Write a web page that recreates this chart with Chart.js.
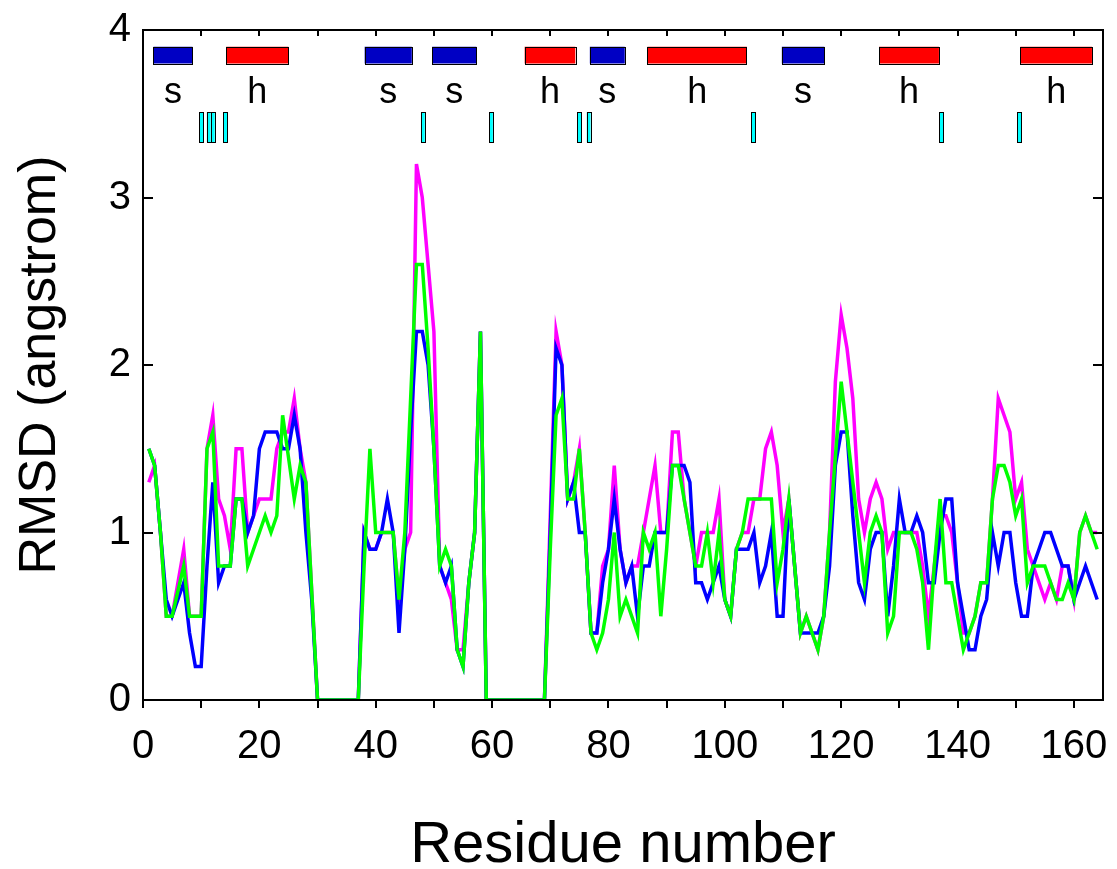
<!DOCTYPE html>
<html>
<head>
<meta charset="utf-8">
<script src="https://cdn.jsdelivr.net/npm/chart.js@4"></script>
<style>
  html, body { margin: 0; padding: 0; background: #ffffff; }
  #wrap { width: 1117px; height: 869px; }
</style>
</head>
<body>
<div id="wrap"><canvas id="c" width="1117" height="869"></canvas></div>
<script>
// ---------- data ----------
const residues = Array.from({ length: 164 }, (_, i) => i + 1);

const rmsdMagenta = [
  1.3,1.4,1.0,0.5,0.5,0.7,0.9,0.5,0.5,0.5,
  1.5,1.7,1.2,1.1,0.9,1.5,1.5,1.0,1.1,1.2,
  1.2,1.2,1.5,1.6,1.6,1.8,1.5,1.3,0.65,
  0,0,0,0,0,0,0,0,
  1.0,0.9,0.9,1.0,1.0,1.0,0.6,0.9,1.0,3.2,
  3.0,2.6,2.2,0.8,0.7,0.6,0.3,0.3,0.7,1.0,2.2,
  0,0,0,0,0,0,0,0,0,0,0,
  1.1,2.2,2.0,1.2,1.3,1.5,1.0,0.4,0.4,0.8,
  0.9,1.4,0.9,0.7,0.8,0.8,1.0,1.2,1.4,1.0,
  1.0,1.6,1.6,1.2,1.0,0.8,1.0,1.0,1.0,1.2,0.6,
  0.5,0.9,1.0,1.0,1.2,1.2,1.5,1.6,1.4,1.0,
  1.2,0.8,0.4,0.5,0.4,0.3,0.5,1.0,1.9,2.3,
  2.1,1.8,1.2,1.0,1.2,1.3,1.2,0.9,1.0,1.0,
  1.0,1.0,1.0,0.8,0.5,0.8,1.1,1.1,1.0,0.7,
  0.4,0.4,0.5,0.7,0.7,1.2,1.8,1.7,1.6,1.2,
  1.3,0.9,0.8,0.7,0.6,0.7,0.6,0.8,0.8,0.6,
  1.0,1.1,1.0,1.0
];

const rmsdBlue = [
  1.5,1.4,1.0,0.6,0.5,0.6,0.7,0.4,0.2,0.2,
  0.8,1.3,0.7,0.8,0.8,1.2,1.2,1.0,1.1,1.5,
  1.6,1.6,1.6,1.5,1.5,1.7,1.5,1.0,0.6,
  0,0,0,0,0,0,0,0,
  1.0,0.9,0.9,1.0,1.2,1.0,0.4,0.9,1.6,2.2,
  2.2,2.0,1.5,0.8,0.7,0.8,0.3,0.2,0.7,1.0,2.2,
  0,0,0,0,0,0,0,0,0,0,0,
  1.0,2.1,2.0,1.2,1.3,1.0,1.0,0.4,0.4,0.7,
  0.9,1.2,0.9,0.7,0.8,0.5,0.8,0.8,1.0,1.0,
  1.0,1.4,1.4,1.4,1.3,0.7,0.7,0.6,0.7,0.8,0.6,
  0.5,0.9,0.9,0.9,1.0,0.7,0.8,1.0,0.5,0.5,
  1.2,0.8,0.4,0.4,0.4,0.4,0.5,0.8,1.4,1.6,
  1.6,1.1,0.7,0.6,0.9,1.0,1.0,0.5,0.8,1.2,
  1.0,1.0,1.1,1.0,0.7,0.7,1.0,1.2,1.2,0.7,
  0.5,0.3,0.3,0.5,0.6,1.0,0.8,1.0,1.0,0.7,
  0.5,0.5,0.8,0.9,1.0,1.0,0.9,0.8,0.8,0.6,
  0.7,0.8,0.7,0.6
];

const rmsdGreen = [
  1.5,1.4,1.0,0.5,0.5,0.65,0.8,0.5,0.5,0.5,
  1.5,1.6,0.8,0.8,0.8,1.2,1.2,0.8,0.9,1.0,
  1.1,1.0,1.1,1.7,1.45,1.2,1.4,1.3,0.65,
  0,0,0,0,0,0,0,0,
  0.8,1.5,1.0,1.0,1.0,1.0,0.6,1.0,1.8,2.6,
  2.6,2.1,1.5,0.8,0.9,0.8,0.3,0.2,0.7,1.0,2.2,
  0,0,0,0,0,0,0,0,0,0,0,
  0.9,1.7,1.8,1.2,1.2,1.5,1.0,0.4,0.3,0.4,
  0.6,1.0,0.5,0.6,0.5,0.4,1.0,0.9,1.0,0.5,
  0.9,1.4,1.4,1.2,1.0,0.8,0.8,1.0,0.7,1.0,0.6,
  0.5,0.9,1.0,1.2,1.2,1.2,1.2,1.2,0.7,0.9,
  1.2,0.8,0.4,0.5,0.4,0.3,0.5,1.0,1.45,1.9,
  1.6,1.3,1.0,0.7,1.0,1.1,1.0,0.4,0.5,1.0,
  1.0,1.0,0.9,0.7,0.3,0.8,1.2,0.7,0.7,0.5,
  0.3,0.4,0.5,0.7,0.7,1.2,1.4,1.4,1.3,1.1,
  1.2,0.7,0.8,0.8,0.8,0.7,0.6,0.6,0.7,0.6,
  1.0,1.1,1.0,0.9
];

// secondary structure (residue ranges)
const strandStarts = [1.8, 38.1, 49.7, 76.8, 109.8];
const strandEnds   = [8.5, 46.2, 57.3, 82.8, 117.1];
const helixStarts  = [14.3, 65.6, 86.7, 126.5, 150.8];
const helixEnds    = [25.0, 74.3, 103.8, 136.8, 163.1];
const strandLabel = 's';
const helixLabel = 'h';
// marked residues (cyan ticks)
const markedResidues = [10.0, 11.3, 12.0, 14.1, 48.1, 59.8, 75.0, 76.6, 104.9, 137.2, 150.6];

// axis ticks
const xTickLabels = [0, 20, 40, 60, 80, 100, 120, 140, 160];
const xTickMarks = [0,10,20,30,40,50,60,70,80,90,100,110,120,130,140,150,160];
const yTickLabels = [0, 1, 2, 3, 4];

// ---------- chart ----------
const FONT = "'Liberation Sans', Arial, Helvetica, sans-serif";

const framePlugin = {
  id: 'framePlugin',
  afterDraw(chart) {
    const ctx = chart.ctx;
    const xs = chart.scales.x, ys = chart.scales.y;
    const a = chart.chartArea;
    ctx.save();
    // frame
    ctx.strokeStyle = '#000';
    ctx.lineWidth = 2;
    ctx.strokeRect(a.left, a.top, a.right - a.left, a.bottom - a.top);
    // x tick marks: outward at bottom, inward at top
    ctx.beginPath();
    xTickMarks.forEach(v => {
      const px = Math.round(xs.getPixelForValue(v));
      ctx.moveTo(px, a.bottom); ctx.lineTo(px, a.bottom + 8);
      ctx.moveTo(px, a.top); ctx.lineTo(px, a.top + 6);
    });
    // y tick marks: inward left and right
    yTickLabels.forEach(v => {
      const py = Math.round(ys.getPixelForValue(v));
      ctx.moveTo(a.left, py); ctx.lineTo(a.left + 10, py);
      ctx.moveTo(a.right, py); ctx.lineTo(a.right - 10, py);
    });
    ctx.stroke();

    // secondary structure boxes
    const yb = ys.getPixelForValue(3.8), yt = ys.getPixelForValue(3.9);
    const drawBox = (x0, x1, fill) => {
      const p0 = xs.getPixelForValue(x0), p1 = xs.getPixelForValue(x1);
      ctx.fillStyle = fill;
      ctx.fillRect(p0, yt, p1 - p0, yb - yt);
      ctx.lineWidth = 1;
      ctx.strokeStyle = '#000';
      ctx.strokeRect(Math.round(p0) + 0.5, Math.round(yt) + 0.5, Math.round(p1 - p0), Math.round(yb - yt));
    };
    ctx.font = '36px ' + FONT;
    ctx.textAlign = 'center';
    ctx.textBaseline = 'alphabetic';
    const ly = ys.getPixelForValue(3.565);
    strandStarts.forEach((s, i) => {
      drawBox(s, strandEnds[i], '#0000c4');
      ctx.fillStyle = '#000';
      ctx.fillText(strandLabel, xs.getPixelForValue((s + strandEnds[i]) / 2), ly);
    });
    helixStarts.forEach((s, i) => {
      drawBox(s, helixEnds[i], '#ff0000');
      ctx.fillStyle = '#000';
      ctx.fillText(helixLabel, xs.getPixelForValue((s + helixEnds[i]) / 2), ly);
    });
    // cyan marks
    const cb = ys.getPixelForValue(3.33), ct = ys.getPixelForValue(3.51);
    markedResidues.forEach(r => {
      const p0 = xs.getPixelForValue(r - 0.33), p1 = xs.getPixelForValue(r + 0.33);
      ctx.fillStyle = '#00ffff';
      ctx.fillRect(p0, ct, p1 - p0, cb - ct);
      ctx.lineWidth = 1;
      ctx.strokeStyle = '#000';
      ctx.strokeRect(Math.round(p0) + 0.5, Math.round(ct) + 0.5, Math.round(p1 - p0), Math.round(cb - ct));
    });
    ctx.restore();
  }
};

const mk = (arr) => residues.map((r, i) => ({ x: r, y: arr[i] }));

new Chart(document.getElementById('c'), {
  type: 'line',
  data: {
    datasets: [
      { label: 'green', data: mk(rmsdGreen), borderColor: '#00ff00', order: 1 },
      { label: 'blue', data: mk(rmsdBlue), borderColor: '#0000ff', order: 2 },
      { label: 'magenta', data: mk(rmsdMagenta), borderColor: '#ff00ff', order: 3 }
    ]
  },
  options: {
    responsive: false,
    animation: false,
    devicePixelRatio: 1,
    layout: { padding: { top: 30, right: 14, left: 0, bottom: 0 } },
    elements: {
      line: { borderWidth: 3.5, tension: 0, fill: false, borderJoinStyle: 'miter' },
      point: { radius: 0, hoverRadius: 0 }
    },
    plugins: { legend: { display: false }, tooltip: { enabled: false } },
    scales: {
      x: {
        type: 'linear', min: 0, max: 165,
        grid: { display: false, drawTicks: false },
        border: { display: false },
        afterBuildTicks: (s) => { s.ticks = xTickLabels.map(v => ({ value: v })); },
        afterFit: (s) => { s.height = 169; s.paddingLeft = 0; s.paddingRight = 0; },
        ticks: { color: '#000', font: { family: FONT, size: 40 }, padding: 23, maxRotation: 0, autoSkip: false },
        title: { display: true, text: 'Residue number', color: '#000',
                 font: { family: FONT, size: 58, lineHeight: 0.8 }, padding: 0 }
      },
      y: {
        type: 'linear', min: 0, max: 4,
        grid: { display: false, drawTicks: false },
        border: { display: false },
        afterBuildTicks: (s) => { s.ticks = yTickLabels.map(v => ({ value: v })); },
        afterFit: (s) => { s.width = 143; s.paddingTop = 0; s.paddingBottom = 0; },
        ticks: { color: '#000', font: { family: FONT, size: 40 }, padding: 12 },
        title: { display: true, text: 'RMSD (angstrom)', color: '#000',
                 font: { family: FONT, size: 52, lineHeight: 1.2 }, padding: { top: 9, bottom: 0 } }
      }
    }
  },
  plugins: [framePlugin]
});
</script>
</body>
</html>
